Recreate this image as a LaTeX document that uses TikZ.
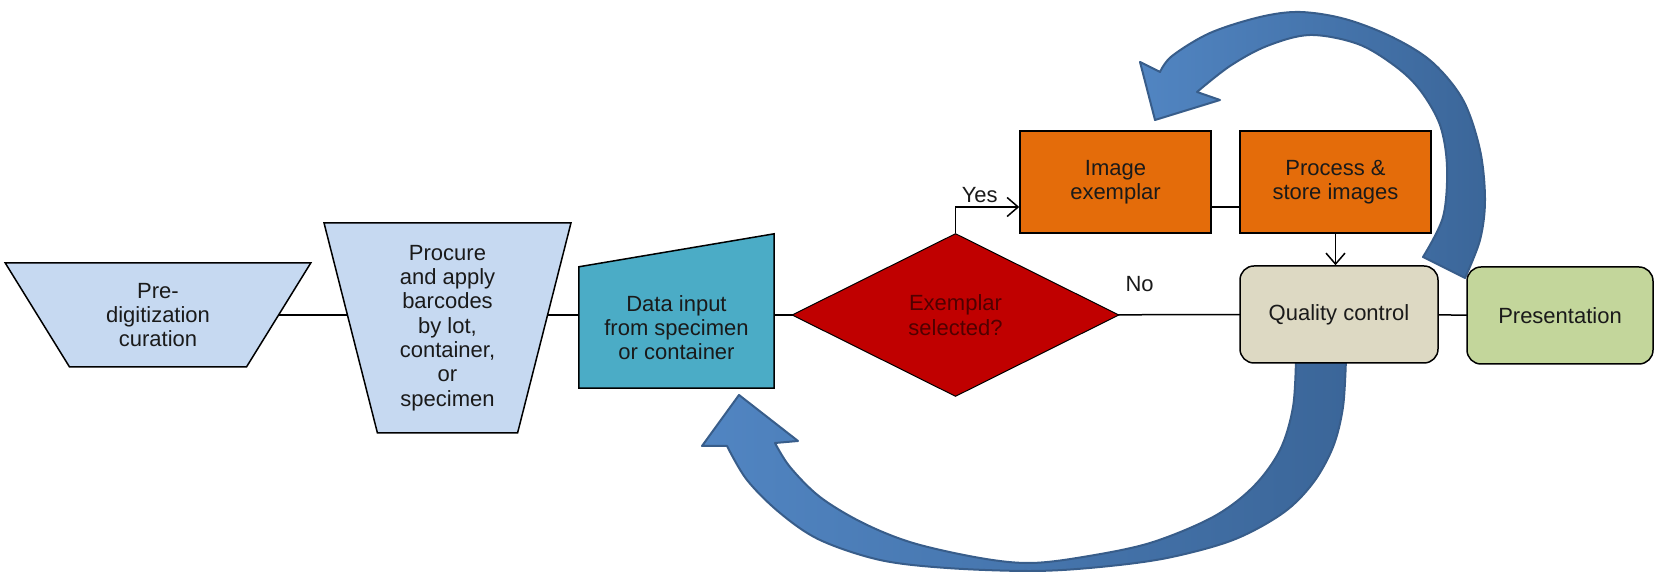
\documentclass[tikz,border=0pt]{standalone}
\usepackage{fontspec}
\setmainfont{Liberation Sans}
\usetikzlibrary{shapes.geometric,arrows.meta,backgrounds,calc}

\definecolor{paleblue}{HTML}{C6D9F1}
\definecolor{inputcol}{HTML}{4BACC6}
\definecolor{decisioncol}{HTML}{C00000}
\definecolor{decisiontext}{HTML}{500000}
\definecolor{imagecol}{HTML}{E46C0A}
\definecolor{qccol}{HTML}{DDD9C3}
\definecolor{prescol}{HTML}{C3D69B}
\definecolor{textcol}{HTML}{1A1A1A}
\definecolor{looplight}{HTML}{5185C2}
\definecolor{loopdark}{HTML}{3B6699}
\definecolor{loopedge}{HTML}{385D8A}

\begin{document}
\begin{tikzpicture}[x=1pt,y=1pt,
  every node/.style={font=\fontsize{22}{24.3}\selectfont, text=textcol},
  box/.style={draw=black, line width=1.5pt, align=center, inner sep=2pt},
  trap/.style={box, trapezium, shape border rotate=180, trapezium stretches=true, fill=paleblue},
  flowbox/.style={box, rectangle, minimum width=191pt, minimum height=102pt, fill=imagecol},
  endbox/.style={box, rectangle, rounded corners=14pt, minimum height=97pt},
  link/.style={line width=1.5pt, draw=black},
  openhead/.style={-{Straight Barb[length=11pt,width=19pt,line width=1.5pt]}},
  loop/.style={draw=loopedge, line width=2pt, line join=round, left color=looplight, right color=loopdark}]

\useasboundingbox (0,0) rectangle (1655,572);

% process steps
\node[trap, trapezium left angle=60, trapezium right angle=60,
      minimum width=306pt, minimum height=104pt] (pre) at (158,257)
      {Pre-\\digitization\\curation};
\node[trap, trapezium left angle=77.4, trapezium right angle=77.4,
      minimum width=247pt, minimum height=210pt] (procure) at (447.5,244)
      {Procure\\and apply\\barcodes\\by lot,\\container,\\or\\specimen};
\node[align=center, inner sep=0pt, minimum width=195pt, minimum height=121pt]
      (datain) at (676.5,244.5) {Data input\\from specimen\\or container};
\node[box, diamond, fill=decisioncol, line width=1pt, text=decisiontext,
      minimum width=327pt, minimum height=163pt] (dia) at (955.5,257)
      {Exemplar\\selected?};
\node[flowbox] (img) at (1115.5,390) {Image\\exemplar};
\node[flowbox] (store) at (1335.5,390) {Process \&\\store images};
\node[endbox, fill=qccol, minimum width=198pt] (qc) at (1339,257.5) {Quality control};
\node[endbox, fill=prescol, minimum width=186pt] (pres) at (1560,256.5) {Presentation};

% branches out of the decision
\draw[link, openhead] (dia.north) |- ([yshift=-25pt]img.west)
  node[pos=0.69, above=0pt] {Yes};
\draw[link, openhead] (store.south) -- (store.south |- qc.north);

\begin{scope}[on background layer]
  % loop back from quality control to the imaging step
  \path[loop] (1197,480) -- (1220,472) -- (1155,452) -- (1140,510) -- (1160,500)
    -- plot[smooth, tension=0.55] coordinates {(1160,500) (1172,516) (1210,539) (1260,555) (1300,560)
        (1345,553) (1392,535) (1432,510) (1463,472) (1480,422) (1485,372) (1480,332) (1465,294)}
    -- (1423,315)
    -- plot[smooth, tension=0.55] coordinates {(1423,315) (1443,355) (1447,405) (1440,447) (1420,482)
        (1395,506) (1358,528) (1310,537) (1267,526) (1230,506) (1197,480)}
    -- cycle;
  % loop back from quality control to data input
  \path[loop] (775,129) -- (798,131) -- (739,177) -- (702,126) -- (727,126)
    -- plot[smooth, tension=0.55] coordinates {(727,126) (747,92) (780,59) (820,32) (880,12) (947,4)
        (1033,1) (1100,5) (1167,14) (1233,32) (1283,59) (1313,89) (1333,125) (1343,165) (1346,214)}
    -- (1296,214)
    -- plot[smooth, tension=0.55] coordinates {(1296,214) (1293,165) (1280,122) (1253,85) (1213,55)
        (1150,29) (1083,15) (1030,9) (980,14) (913,29) (863,49) (820,75) (790,105) (775,129)}
    -- cycle;

  % main line of the workflow
  \draw[link] (pre.center) -- (pre.center -| procure.center);
  \draw[link] (pre.center -| procure.center) -- (pre.center -| datain.center);
  \draw[link] (pre.center -| datain.center) -- (dia.center);
  \draw[link] (dia.center) -- (qc.center) node[pos=0.48, above=19pt] {No};
  \draw[link] (qc.center) -- (pres.center);
  \draw[link] ([yshift=-25pt]img.center) -- ([yshift=-25pt]store.center);

  % manual-input outline behind the data input text
  \draw[box, fill=inputcol] (datain.south west) -- (datain.south east)
    -- ([yshift=33pt]datain.north east) -- (datain.north west) -- cycle;
\end{scope}
\end{tikzpicture}
\end{document}
